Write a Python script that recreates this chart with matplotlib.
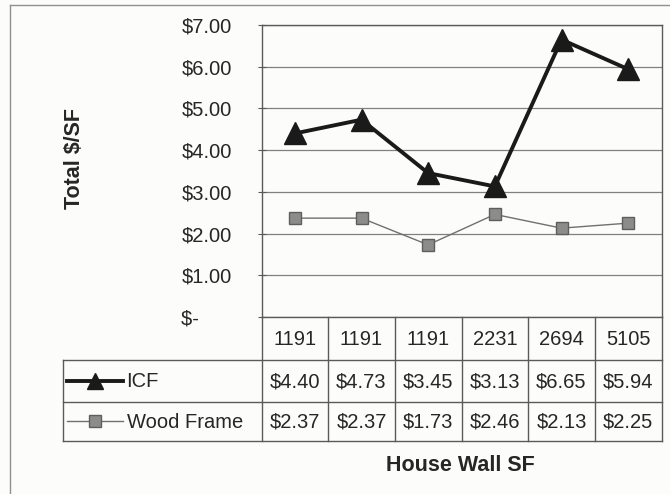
import matplotlib
matplotlib.use("Agg")
import matplotlib.pyplot as plt
from matplotlib.ticker import FuncFormatter

plt.rcParams['font.family'] = ['Liberation Sans', 'DejaVu Sans']

categories = ["1191", "1191", "1191", "2231", "2694", "5105"]
icf = [4.40, 4.73, 3.45, 3.13, 6.65, 5.94]
wood = [2.37, 2.37, 1.73, 2.46, 2.13, 2.25]
series_names = ["ICF", "Wood Frame"]
y_ticks = [0, 1, 2, 3, 4, 5, 6, 7]

W, H = 670, 494
fig = plt.figure(figsize=(W / 100, H / 100), dpi=100)
bg = "#fcfcfa"
fig.patch.set_facecolor(bg)

txt = "#262626"
lc = "#5a5a5a"

# plot area in pixels
L, R, T, B = 261.5, 661.5, 25, 317
ax = fig.add_axes([L / W, 1 - B / H, (R - L) / W, (B - T) / H])
ax.set_facecolor(bg)
n = len(categories)
x = list(range(n))
ax.plot(x, icf, color="#1a1a1a", lw=2.8, marker="^", ms=16, mfc="#1a1a1a", mec="#1a1a1a", zorder=3)
ax.plot(x, wood, color="#707070", lw=1.0, marker="s", ms=9, mfc="#8c8c8c", mec="#5e5e5e", mew=1, zorder=3)
ax.set_xlim(-0.5, n - 0.5)
ax.set_ylim(0, 7)
ax.set_yticks(y_ticks)
ax.yaxis.set_major_formatter(FuncFormatter(lambda v, p: "$-      " if v == 0 else f"${v:.2f}"))
ax.grid(axis="y", color="#808080", lw=0.9)
ax.set_axisbelow(True)
ax.set_xticks([])
for s in ax.spines.values():
    s.set_color(lc)
    s.set_linewidth(1)
ax.tick_params(axis="y", direction="inout", length=6, color=lc, labelsize=14.5, pad=18, labelcolor=txt)

ov2 = fig.add_axes([0, 0, 1, 1], zorder=5)
ov2.set_xlim(0, W)
ov2.set_ylim(H, 0)
ov2.axis("off")
ov2.patch.set_alpha(0)

col_edges = [L + (R - L) * i / n for i in range(n + 1)]
row_edges = [B, 359.5, 402, 440.5]
tleft = 63
for yy in row_edges[1:]:
    ov2.plot([tleft, R], [yy, yy], color=lc, lw=1)
for xx in col_edges:
    ov2.plot([xx, xx], [row_edges[0], row_edges[-1]], color=lc, lw=1)
ov2.plot([tleft, tleft], [row_edges[1], row_edges[-1]], color=lc, lw=1)

fs = 14.5
for i in range(n):
    cx = (col_edges[i] + col_edges[i + 1]) / 2
    ov2.text(cx, (row_edges[0] + row_edges[1]) / 2 + 1, categories[i], ha="center", va="center", fontsize=fs, color=txt)
    ov2.text(cx, (row_edges[1] + row_edges[2]) / 2 + 1, f"${icf[i]:.2f}", ha="center", va="center", fontsize=fs, color=txt)
    ov2.text(cx, (row_edges[2] + row_edges[3]) / 2 + 1, f"${wood[i]:.2f}", ha="center", va="center", fontsize=fs, color=txt)

# legend keys
ky1 = (row_edges[1] + row_edges[2]) / 2
ky2 = (row_edges[2] + row_edges[3]) / 2
ov2.plot([67, 95, 123], [ky1] * 3, color="#1a1a1a", lw=2.8, marker="^", ms=12, markevery=[1], mfc="#1a1a1a", mec="#1a1a1a")
ov2.plot([67, 95, 123], [ky2] * 3, color="#707070", lw=1.0, marker="s", ms=9, markevery=[1], mfc="#8c8c8c", mec="#5e5e5e")
ov2.text(126, ky1 + 1, series_names[0], ha="left", va="center", fontsize=fs, color=txt)
ov2.text(127, ky2 + 1, series_names[1], ha="left", va="center", fontsize=fs, color=txt)

# axis titles
ov2.text(460, 465, "House Wall SF", ha="center", va="center", fontsize=15.5, fontweight="bold", color=txt)
ov2.text(75, 158, "Total $/SF", ha="center", va="center", rotation=90, fontsize=15.5, fontweight="bold", color=txt)

# outer frame
ov2.plot([10, 672], [5, 5], color="#909090", lw=1)
ov2.plot([10, 10], [5, 500], color="#909090", lw=1)

fig.savefig("out.png", dpi=100, facecolor=bg)
